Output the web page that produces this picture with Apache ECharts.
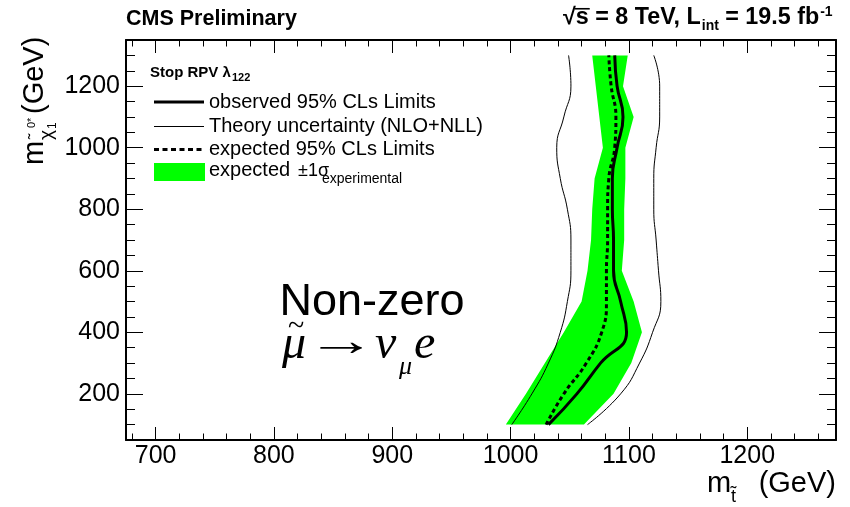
<!DOCTYPE html>
<html>
<head>
<meta charset="utf-8">
<script src="https://cdn.jsdelivr.net/npm/echarts@6/dist/echarts.min.js"></script>
<style>
  html, body { margin: 0; padding: 0; background: #ffffff; }
  #chart { width: 850px; height: 507px; }
</style>
</head>
<body>
<div id="chart"></div>
<script>
// Neutralino mass points (GeV) at which the stop-mass limits were evaluated
const neutralinoMass = [100, 200, 300, 400, 500, 600, 700, 800, 900, 1000, 1100, 1200, 1300];

// Stop-mass exclusion limits (GeV), one value per neutralino mass
const observedLimit = [1032, 1056, 1076, 1098, 1093, 1087, 1087, 1086, 1086, 1090, 1095, 1090, 1088];
const expectedLimit = [1030, 1045, 1064, 1077, 1081, 1081, 1082, 1082, 1083, 1088, 1089, 1085, 1083];
const theoryLow     = [1001, 1018, 1032, 1042, 1048, 1051, 1051, 1048, 1042, 1039, 1045, 1051, 1049];
const theoryHigh    = [1065, 1093, 1109, 1120, 1127, 1125, 1123, 1121, 1121, 1123, 1126, 1126, 1121];
const bandLow       = [996, 1013, 1029, 1045, 1060, 1065, 1068, 1069, 1071, 1078, 1075, 1072, 1069];
const bandHigh      = [1062, 1087, 1102, 1111, 1104, 1094, 1096, 1096, 1097, 1097, 1104, 1095, 1099];

// Axis ranges and tick marks
const stopRange = [675, 1275];
const neutralinoRange = [50, 1350];
const stopMajorTicks = [700, 800, 900, 1000, 1100, 1200];
const stopMinorTicks = [680, 720, 740, 760, 780, 820, 840, 860, 880, 920, 940, 960, 980,
                        1020, 1040, 1060, 1080, 1120, 1140, 1160, 1180, 1220, 1240, 1260];
const neutralinoMajorTicks = [200, 400, 600, 800, 1000, 1200];
const neutralinoMinorTicks = [100, 150, 250, 300, 350, 450, 500, 550, 650, 700, 750,
                              850, 900, 950, 1050, 1100, 1150, 1250, 1300];

const pairs = (xs) => neutralinoMass.map((m, i) => [xs[i], m]);
// Closed outline of the ±1σ band: low edge upwards, high edge back down
const bandOutline = pairs(bandLow).concat(pairs(bandHigh).reverse());

const SANS = '"Liberation Sans", Arial, Helvetica, "DejaVu Sans", sans-serif';
const SERIF = '"Liberation Serif", "Times New Roman", "DejaVu Serif", serif';

function fontString(size, opts) {
  opts = opts || {};
  return (opts.italic ? 'italic ' : '') + (opts.bold ? 'bold ' : '') + size + 'px ' +
         (opts.family || (opts.serif ? SERIF : SANS));
}

const measureCtx = document.createElement('canvas').getContext('2d');
function textWidth(text, size, opts) {
  measureCtx.font = fontString(size, opts);
  return measureCtx.measureText(text).width;
}

// Text placed by its alphabetic baseline
function label(text, x, baseline, size, opts) {
  opts = opts || {};
  const align = opts.align || 'left';
  const el = {
    type: 'text',
    x: x,
    y: baseline - 0.345 * size,
    style: {
      text: text,
      font: fontString(size, opts),
      fill: '#000',
      textAlign: align, align: align,
      textVerticalAlign: 'middle', verticalAlign: 'middle'
    },
    z: 100
  };
  if (opts.scaleX) el.scaleX = opts.scaleX;
  return el;
}

function hline(x1, x2, y, width, dash) {
  return {
    type: 'line',
    shape: { x1: x1, y1: y, x2: x2, y2: y },
    style: { stroke: '#000', lineWidth: width, lineDash: dash || null },
    z: 100
  };
}

// Energy / luminosity header laid out piece by piece from the left
function lumiHeader(x0, base, size) {
  const b = { bold: true };
  const out = [];
  let x = x0;
  out.push(label('\u221A', x, base, size, b));
  x += textWidth('\u221A', size, b);
  out.push(hline(x - 1, x + textWidth('s', size, b) + 1, base - 0.74 * size, 1.6));
  out.push(label('s', x, base, size, b));
  x += textWidth('s', size, b);
  const mid = ' = 8 TeV, L';
  out.push(label(mid, x, base, size, b));
  x += textWidth(mid, size, b);
  const sub = 0.6 * size;
  out.push(label('int', x + 1, base + 5, sub, b));
  x += textWidth('int', sub, b) + 1;
  const tail = ' = 19.5 fb';
  out.push(label(tail, x, base, size, b));
  x += textWidth(tail, size, b);
  out.push(label('-1', x + 1, base - 9, sub, b));
  return out;
}

function frameAxis(position, range, ticks, tickLen, withLine, labelOpts) {
  return {
    type: 'value',
    position: position,
    min: range[0], max: range[1],
    axisLine: { show: withLine, onZero: false, lineStyle: { color: '#000', width: 2 } },
    splitLine: { show: false },
    axisTick: { show: true, inside: true, length: tickLen, customValues: ticks,
                lineStyle: { color: '#000', width: 1 } },
    axisLabel: labelOpts ? Object.assign({ customValues: ticks, formatter: (v) => String(v) }, labelOpts)
                         : { show: false },
    z: 50
  };
}

function limitLine(name, values, width, dash, z) {
  return {
    name: name,
    type: 'line', data: pairs(values),
    smooth: 0.5, showSymbol: false, symbol: 'none',
    lineStyle: { color: '#000', width: width, type: dash || 'solid' },
    z: z, silent: true
  };
}

const chart = echarts.init(document.getElementById('chart'), null, { renderer: 'canvas' });

const option = {
  backgroundColor: '#ffffff',
  animation: false,
  grid: { left: 126, right: 14, top: 40, bottom: 67 },
  xAxis: [
    frameAxis('bottom', stopRange, stopMajorTicks, 13, true,
      { show: true, color: '#000', fontSize: 25, fontFamily: SANS, margin: 16, verticalAlign: 'middle' }),
    frameAxis('top', stopRange, stopMajorTicks, 13, true, null),
    frameAxis('bottom', stopRange, stopMinorTicks, 6.5, false, null),
    frameAxis('top', stopRange, stopMinorTicks, 6.5, false, null)
  ],
  yAxis: [
    frameAxis('left', neutralinoRange, neutralinoMajorTicks, 17, true,
      { show: true, color: '#000', fontSize: 25, fontFamily: SANS, margin: 6 }),
    frameAxis('right', neutralinoRange, neutralinoMajorTicks, 17, true, null),
    frameAxis('left', neutralinoRange, neutralinoMinorTicks, 9, false, null),
    frameAxis('right', neutralinoRange, neutralinoMinorTicks, 9, false, null)
  ],
  series: [
    {
      name: 'expected ±1σ experimental',
      type: 'custom',
      xAxisIndex: 0, yAxisIndex: 0,
      clip: true,
      z: 1,
      data: bandOutline,
      renderItem: function (params, api) {
        if (params.dataIndex !== 0) return null;
        const pts = bandOutline.map(function (p) { return api.coord(p); });
        return { type: 'polygon', shape: { points: pts }, style: { fill: '#00ff00', stroke: null } };
      }
    },
    limitLine('Theory uncertainty low', theoryLow, 1, null, 3),
    limitLine('Theory uncertainty high', theoryHigh, 1, null, 3),
    limitLine('expected 95% CLs Limits', expectedLimit, 3, [4, 3], 4),
    limitLine('observed 95% CLs Limits', observedLimit, 3, null, 5)
  ],
  graphic: [
    // Header
    label('CMS Preliminary', 126, 26, 21.5, { bold: true }),
    ...lumiHeader(563, 26, 23.3),

    // Legend
    label('Stop RPV \u03BB', 150, 78, 15, { bold: true }),
    label('122', 232, 82, 11, { bold: true }),
    hline(154, 204, 102, 3),
    label('observed 95% CLs Limits', 209, 109, 20),
    hline(154, 204, 126.5, 1),
    label('Theory uncertainty (NLO+NLL)', 209, 133, 20),
    hline(154, 204, 149.5, 3, [5, 3.5]),
    label('expected 95% CLs Limits', 209, 156, 20),
    {
      type: 'rect', shape: { x: 154, y: 163, width: 51, height: 18 },
      style: { fill: '#00ff00' }, z: 100
    },
    label('expected', 209, 177, 20),
    label('\u00B11\u03C3', 298, 177, 18),
    label('experimental', 322, 184, 14),

    // Process annotation
    label('Non-zero', 372, 318, 45, { align: 'center' }),
    label('\u03BC', 282, 362, 48, { serif: true, italic: true }),
    label('~', 288, 337, 30, { serif: true }),
    label('\u2192', 306, 359, 44, { serif: true, scaleX: 1.6 }),
    label('\u03BD', 375, 362, 48, { serif: true, italic: true }),
    label('\u03BC', 399, 376, 26, { serif: true, italic: true }),
    label('e', 414, 362, 48, { serif: true, italic: true }),

    // x-axis title
    label('m', 707, 494, 29),
    label('t\u0303', 731, 503, 18),
    label('(GeV)', 836, 494, 29, { align: 'right' }),

    // y-axis title (rotated, reads upwards)
    {
      type: 'group',
      x: 45, y: 165,
      rotation: Math.PI / 2,
      children: [
        label('m', 0, 0, 29),
        label('\u03C7', 25, 8, 19),
        label('\u02DC', 26, -4, 16),
        label('0*', 37, -9, 11),
        label('1', 36, 12, 12),
        label('(GeV)', 51, 0, 29)
      ]
    }
  ]
};

chart.setOption(option);
</script>
</body>
</html>
